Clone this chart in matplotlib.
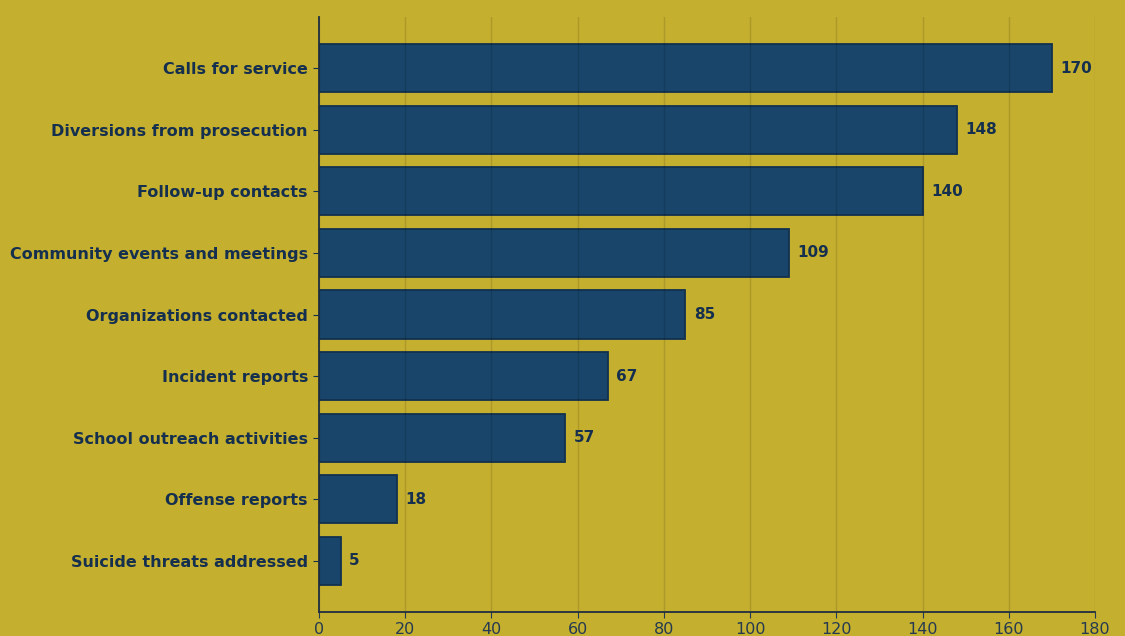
import matplotlib.pyplot as plt

plt.rcParams["font.family"] = "DejaVu Sans"

categories = [
    "Calls for service",
    "Diversions from prosecution",
    "Follow-up contacts",
    "Community events and meetings",
    "Organizations contacted",
    "Incident reports",
    "School outreach activities",
    "Offense reports",
    "Suicide threats addressed",
]
counts = [170, 148, 140, 109, 85, 67, 57, 18, 5]

bg = "#c4af2f"
bar_color = "#184569"
text_color = "#152f4e"

fig = plt.figure(figsize=(11.25, 6.36), dpi=100, facecolor=bg)
ax = fig.add_axes([319 / 1125, 1 - 612 / 636, (1095 - 319) / 1125, (612 - 17) / 636])
ax.set_facecolor(bg)

pos = list(range(len(categories)))
bars = ax.barh(pos, counts, height=0.78, color=bar_color,
               edgecolor="#12314f", linewidth=1.3, zorder=2)
ax.invert_yaxis()
ax.set_yticks(pos)
ax.set_yticklabels(categories, fontsize=11.5, fontweight="bold", color=text_color)
ax.set_xlim(0, 180)
ax.set_xticks(range(0, 181, 20))
ax.tick_params(axis="x", labelsize=11.5, colors="#253a50", length=4)
ax.tick_params(axis="y", colors=text_color, length=4, pad=4)

for b, v in zip(bars, counts):
    ax.text(v + 2, b.get_y() + b.get_height() / 2, str(v), va="center", ha="left",
            fontsize=11, fontweight="bold", color=text_color)

# faint vertical grid, drawn over the bars
ax.grid(axis="x", color="black", alpha=0.12, linewidth=1, zorder=3)
ax.set_axisbelow(False)
for side in ["top", "right"]:
    ax.spines[side].set_visible(False)
for side in ["left", "bottom"]:
    ax.spines[side].set_color("#1e2e40")
    ax.spines[side].set_linewidth(1.3)
    ax.spines[side].set_zorder(4)

fig.savefig("out.png", dpi=100, facecolor=bg)
